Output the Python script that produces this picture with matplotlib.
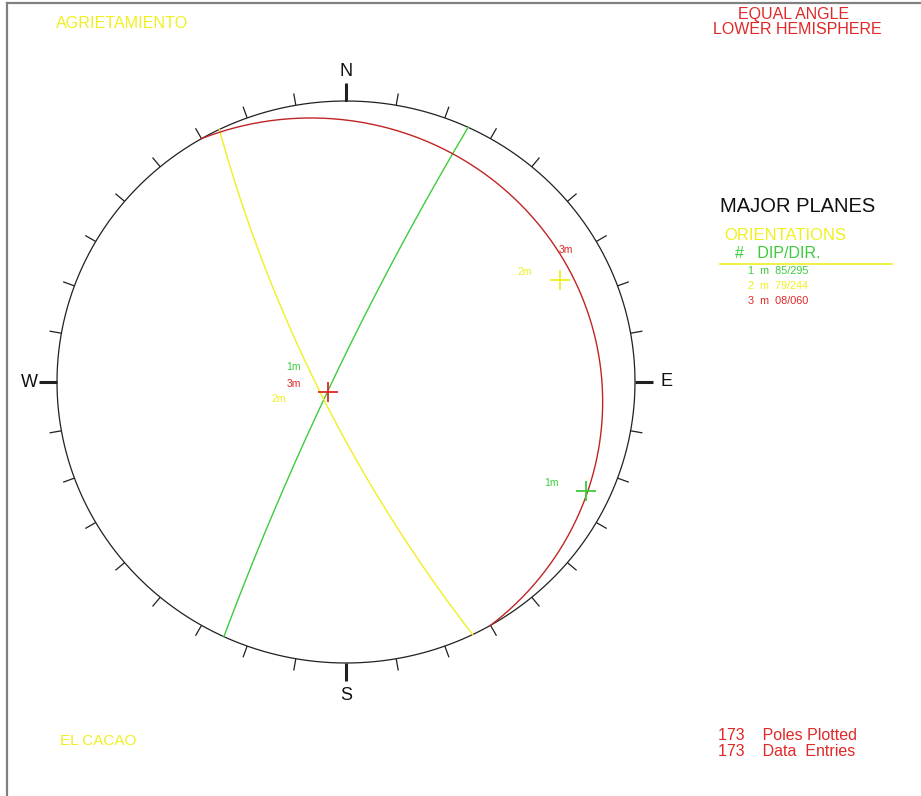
import numpy as np
import matplotlib.pyplot as plt

# planes: dip / dip direction
plane_ids = ["1", "2", "3"]
dips = [85, 79, 8]
dip_dirs = [295, 244, 60]
plane_colors = ["#3ccc3c", "#f0f020", "#e02828"]
circle_colors = ["#3ccc3c", "#f0f020", "#c02424"]
n_poles = 173
n_entries = 173

W, H = 921, 796
cx, cy, rx, ry = 346, 382, 289, 281

fig = plt.figure(figsize=(W / 100, H / 100), dpi=100)
fig.patch.set_facecolor("white")

# stereonet axes in unit coords, slightly stretched like the original
ax = fig.add_axes([(cx - rx) / W, (H - cy - ry) / H, 2 * rx / W, 2 * ry / H])
ax.set_xlim(-1, 1)
ax.set_ylim(-1, 1)
ax.axis("off")


def proj(trend, plunge):
    t = np.radians(trend)
    r = np.tan(np.radians(90 - plunge) / 2)
    return r * np.sin(t), r * np.cos(t)


def great_circle(dd, dip):
    strike = np.radians(dd - 90)
    d = np.radians(dd)
    dp = np.radians(dip)
    s = np.array([np.sin(strike), np.cos(strike), 0.0])
    v = np.array([np.sin(d) * np.cos(dp), np.cos(d) * np.cos(dp), -np.sin(dp)])
    t = np.linspace(0, np.pi, 400)
    pts = np.outer(np.cos(t), s) + np.outer(np.sin(t), v)
    plunge = np.degrees(np.arcsin(np.clip(-pts[:, 2], -1, 1)))
    trend = np.degrees(np.arctan2(pts[:, 0], pts[:, 1]))
    return proj(trend, plunge)


# primitive circle
a = np.linspace(0, 2 * np.pi, 720)
ax.plot(np.sin(a), np.cos(a), color="#202020", lw=0.9, clip_on=False)

# ticks every 10 degrees
for az in range(0, 360, 10):
    t = np.radians(az)
    if az % 90 == 0:
        L, lw = 18, 2.2
    else:
        L, lw = 12, 0.9
    x0, y0 = np.sin(t), np.cos(t)
    x1 = x0 + L / rx * np.sin(t)
    y1 = y0 + L / ry * np.cos(t)
    ax.plot([x0, x1], [y0, y1], color="#202020", lw=lw, clip_on=False,
            solid_capstyle="butt")

for lab, az, off in zip(["N", "E", "S", "W"], [0, 90, 180, 270], [30, 31, 32, 28]):
    t = np.radians(az)
    ax.text(np.sin(t) * (1 + off / rx), np.cos(t) * (1 + off / ry), lab,
            ha="center", va="center", fontsize=13, family="Liberation Sans",
            color="#111111")

# great circles
for dd, dp, col in zip(dip_dirs, dips, circle_colors):
    gx, gy = great_circle(dd, dp)
    ax.plot(gx, gy, color=col, lw=1.0, clip_on=False)

# poles
for pid, dd, dp, col in zip(plane_ids, dip_dirs, dips, plane_colors):
    px, py = proj(dd + 180, 90 - dp)
    ax.plot(px, py, marker="+", ms=14, mew=1.3, color=col, ls="none")
    ax.annotate(pid + "m", (px, py), xytext=(-35 * 0.72, 8 * 0.72),
                textcoords="offset points", ha="center", va="center",
                fontsize=7.5, color=col, family="Liberation Sans")


def ftext(x, y, s, **kw):
    fig.text(x / W, 1 - y / H, s, **kw)


# great circle labels
ftext(293, 367, "1m", ha="center", va="center", fontsize=7.5,
      color=plane_colors[0], family="Liberation Sans")
ftext(279, 399, "2m", ha="center", va="center", fontsize=7.5,
      color=plane_colors[1], family="Liberation Sans")
ftext(566, 250, "3m", ha="center", va="center", fontsize=7.5,
      color=plane_colors[2], family="Liberation Sans")

# frame (left and top edges)
fig.add_artist(plt.Line2D([7 / W, 7 / W], [0, 1 - 3 / H], transform=fig.transFigure,
                          color="#808080", lw=1.6))
fig.add_artist(plt.Line2D([7 / W, 1], [1 - 3 / H, 1 - 3 / H], transform=fig.transFigure,
                          color="#808080", lw=1.6))

ftext(56, 24, "AGRIETAMIENTO", ha="left", va="center", fontsize=11.6,
      color="#f0f020", family="Liberation Sans")
ftext(794, 14, "EQUAL ANGLE", ha="center", va="center", fontsize=11.5,
      color="#e02828", family="Liberation Sans")
ftext(797, 30, "LOWER HEMISPHERE", ha="center", va="center", fontsize=11.5,
      color="#e02828", family="Liberation Sans")

ftext(720, 207, "MAJOR PLANES", ha="left", va="center", fontsize=14.5,
      color="#111111", family="Liberation Sans")
ftext(724, 236, "ORIENTATIONS", ha="left", va="center", fontsize=12,
      color="#f0f020", family="Liberation Sans")
ftext(735, 254, "#   DIP/DIR.", ha="left", va="center", fontsize=11.5,
      color="#3ccc3c", family="Liberation Sans")
fig.add_artist(plt.Line2D([720 / W, 892 / W], [1 - 264 / H, 1 - 264 / H],
                          transform=fig.transFigure, color="#f0f020", lw=1.2))
for i, (pid, dd, dp, col) in enumerate(zip(plane_ids, dip_dirs, dips, plane_colors)):
    ftext(748, 271 + 15 * i, f"{pid}  m  {dp:02d}/{dd:03d}", ha="left", va="center",
          fontsize=7.8, color=col, family="Liberation Sans")

ftext(60, 741, "EL CACAO", ha="left", va="center", fontsize=11,
      color="#f0f020", family="Liberation Sans")
ftext(718, 735, f"{n_poles}    Poles Plotted", ha="left", va="center", fontsize=11.5,
      color="#e02828", family="Liberation Sans")
ftext(718, 752, f"{n_entries}    Data  Entries", ha="left", va="center", fontsize=11.5,
      color="#e02828", family="Liberation Sans")

fig.savefig("out.png", dpi=100, facecolor="white")
